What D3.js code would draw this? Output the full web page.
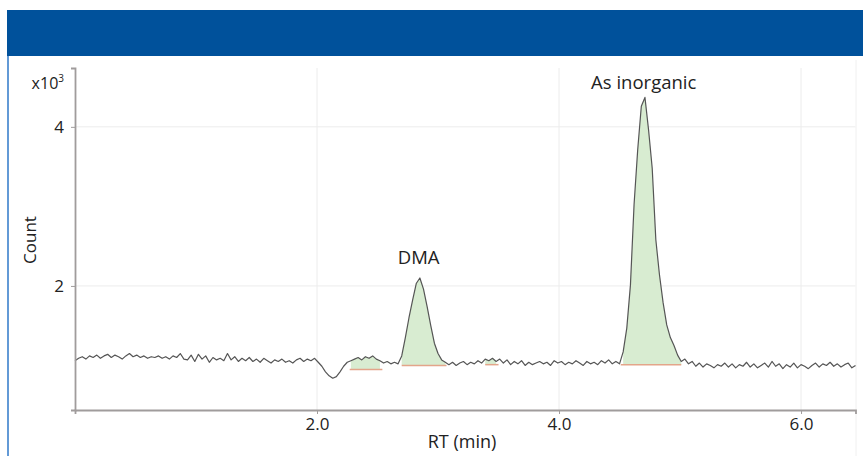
<!DOCTYPE html>
<html>
<head>
<meta charset="utf-8">
<script src="https://cdn.jsdelivr.net/npm/d3@7"></script>
<style>
	body { margin: 0; background: #fff; }
	svg { display: block; font-family: "Open Sans", "Noto Sans", sans-serif; }
</style>
</head>
<body>
<svg id="chart" width="863" height="456"></svg>
<script>

/*
 Chromatogram - arsenic species (DMA, As inorganic)
 Counts are in thousands (x10^3), retention time in minutes.
*/

// Sampling of the trace
const rtStart = 0;
const rtStep = 0.03;

// Trace counts (x10^3), one per sample
const counts = [
	1.06, 1.09, 1.11, 1.08, 1.12, 1.10, 1.13, 1.09, 1.12, 1.14,
	1.10, 1.13, 1.11, 1.08, 1.12, 1.15, 1.11, 1.13, 1.10, 1.12,
	1.09, 1.11, 1.10, 1.12, 1.09, 1.11, 1.08, 1.12, 1.10, 1.15,
	1.08, 1.07, 1.13, 1.05, 1.14, 1.08, 1.12, 1.04, 1.10, 1.07,
	1.09, 1.06, 1.15, 1.07, 1.11, 1.05,
	1.09, 1.06, 1.10, 1.05, 1.08, 1.04, 1.09, 1.06, 1.03, 1.07,
	1.05, 1.08, 1.04, 1.06, 1.03, 1.07, 1.09, 1.05, 1.08, 1.06, 1.09,
	1.04, 0.99, 0.92, 0.87, 0.84, 0.86, 0.92, 0.99, 1.04,
	1.06, 1.08, 1.10, 1.07, 1.11, 1.09, 1.12, 1.08, 1.06,
	1.03, 1.05, 1.02, 1.04, 1.02,
	1.12, 1.35, 1.60, 1.82, 2.03, 2.10, 1.96, 1.74, 1.50, 1.28, 1.15, 1.07, 1.04,
	1.01, 1.04, 1.00, 1.03, 1.05, 1.01, 1.04, 1.02, 1.06, 1.03,
	1.08, 1.06, 1.09, 1.05, 1.08, 1.03, 1.07, 1.01, 1.05, 1.02,
	1.06, 1.00, 1.04, 1.01, 1.03, 1.05, 1.02, 1.04, 1.00, 1.06,
	1.03, 1.05, 1.01, 1.04, 1.02, 1.06, 1.03, 1.00, 1.05, 1.02,
	1.04, 1.01, 1.06, 1.03, 1.07, 1.02, 1.05,
	1.02, 1.17, 1.47, 2.01, 3.02, 3.71, 4.26, 4.37, 3.96, 3.48,
	2.58, 2.14, 1.79, 1.51, 1.35, 1.25, 1.13, 1.05,
	1.08, 1.02, 1.05, 0.99, 1.03, 0.98, 1.02, 1.00, 0.97, 1.01,
	0.99, 1.03, 0.98, 1.02, 0.97, 1.01, 0.99, 1.04, 0.98, 1.02,
	0.97, 1.00, 1.03, 0.98, 1.05, 0.99, 1.02, 0.96, 1.01, 0.98,
	1.03, 0.97, 1.01, 0.99, 0.96, 1.00, 1.03, 0.98, 1.02, 1.00,
	1.04, 0.99, 1.02, 0.98, 1.01, 1.03, 0.97, 1.00
];

// Integrated regions: start / end RT and baseline level (x10^3)
const peakStart = [2.27, 2.70, 3.39, 4.51];
const peakEnd   = [2.54, 3.07, 3.50, 5.01];
const peakBase  = [0.95, 1.00, 1.01, 1.01];

// Peak labels
const labelNames = ["DMA", "As inorganic"];
const labelRT    = [2.84, 4.70];
const labelCount = [2.28, 4.47];

// Axis ticks
const xTicks = [2.0, 4.0, 6.0];
const yTicks = [2, 4];

// Build the trace points
const trace = counts.map((c, i) => ({ rt: rtStart + i * rtStep, count: c }));

// Select SVG
const svg = d3.select("#chart");

// Header band and frame line
svg.append("rect")
	.attr("x", 7).attr("y", 10)
	.attr("width", 856).attr("height", 46)
	.attr("fill", "#00519b");

svg.append("line")
	.attr("x1", 8).attr("x2", 8)
	.attr("y1", 56).attr("y2", 456)
	.attr("stroke", "#2f78c8")
	.attr("stroke-width", 1.5);

// Scales
const x = d3.scaleLinear().domain([0, 6.45]).range([75, 855.5]);
const y = d3.scaleLinear().domain([0.44, 4.74]).range([410, 68]);

// Grid
const grid = svg.append("g").attr("class", "grid");

grid.selectAll("line.gx")
	.data(xTicks)
	.join("line")
	.attr("class", "gx")
	.attr("x1", d => x(d)).attr("x2", d => x(d))
	.attr("y1", y.range()[1]).attr("y2", y.range()[0])
	.attr("stroke", "#ececec");

grid.selectAll("line.gy")
	.data(yTicks)
	.join("line")
	.attr("class", "gy")
	.attr("x1", x.range()[0]).attr("x2", x.range()[1])
	.attr("y1", d => y(d)).attr("y2", d => y(d))
	.attr("stroke", "#ececec");

// faint right border of the plot
svg.append("line")
	.attr("x1", 856).attr("x2", 856)
	.attr("y1", 60).attr("y2", 456)
	.attr("stroke", "#f0f0f0");

// Integrated areas (green fill + orange baseline)
const peaks = peakStart.map((s, i) => ({
	start: s,
	end: peakEnd[i],
	base: peakBase[i],
	points: trace.filter(p => p.rt >= s - 1e-9 && p.rt <= peakEnd[i] + 1e-9)
}));

const area = d3.area()
	.x(d => x(d.rt))
	.y1(d => y(d.count));

const peakG = svg.append("g").attr("class", "peaks");

peakG.selectAll("path")
	.data(peaks)
	.join("path")
	.attr("d", d => area.y0(y(d.base))(d.points))
	.attr("fill", "#d6ebcf")
	.attr("opacity", 0.95);

peakG.selectAll("line")
	.data(peaks)
	.join("line")
	.attr("x1", d => x(d.start)).attr("x2", d => x(d.end))
	.attr("y1", d => y(d.base)).attr("y2", d => y(d.base))
	.attr("stroke", "#e3a58a")
	.attr("stroke-width", 1.5);

// Trace line
svg.append("path")
	.datum(trace)
	.attr("d", d3.line().x(d => x(d.rt)).y(d => y(d.count)))
	.attr("fill", "none")
	.attr("stroke", "#555")
	.attr("stroke-width", 1.2)
	.attr("stroke-linejoin", "round");

// Axes
const xAxis = svg.append("g")
	.attr("transform", `translate(0,${y.range()[0]})`)
	.call(d3.axisBottom(x).tickValues(xTicks).tickFormat(d3.format(".1f")).tickSize(4).tickPadding(4));

const yAxis = svg.append("g")
	.attr("transform", `translate(${x.range()[0]},0)`)
	.call(d3.axisLeft(y).tickValues(yTicks).tickFormat(d3.format("d")).tickSize(4).tickPadding(7));

[xAxis, yAxis].forEach(ax => {
	ax.select(".domain").attr("stroke", "#a09c9c").attr("stroke-width", 1.8);
	ax.selectAll(".tick line").attr("stroke", "#a09c9c");
	ax.selectAll(".tick text")
		.attr("fill", "#222")
		.style("font-size", "17px")
		.style("font-family", "'Open Sans', 'Noto Sans', sans-serif");
});

// Axis titles
const mult = svg.append("text")
	.attr("x", 64).attr("y", 89)
	.attr("text-anchor", "end")
	.attr("fill", "#222")
	.style("font-size", "16px");
mult.append("tspan").text("x10");
mult.append("tspan").text("3").attr("dy", -7).style("font-size", "10px");

svg.append("text")
	.attr("transform", "translate(36,240) rotate(-90)")
	.attr("text-anchor", "middle")
	.attr("fill", "#222")
	.style("font-size", "17px")
	.text("Count");

svg.append("text")
	.attr("x", 462).attr("y", 448)
	.attr("text-anchor", "middle")
	.attr("fill", "#222")
	.style("font-size", "18px")
	.text("RT (min)");

// Peak labels
svg.append("g")
	.selectAll("text")
	.data(labelNames)
	.join("text")
	.attr("x", (d, i) => x(labelRT[i]))
	.attr("y", (d, i) => y(labelCount[i]))
	.attr("text-anchor", "middle")
	.attr("fill", "#222")
	.style("font-size", "18.5px")
	.text(d => d);

</script>
</body>
</html>
